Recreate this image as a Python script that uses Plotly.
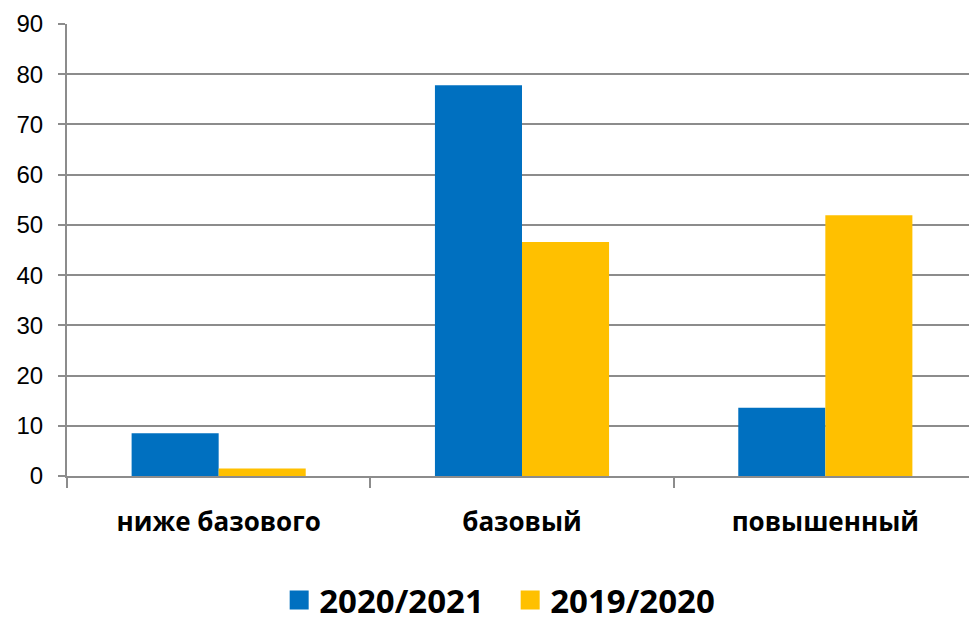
import plotly.graph_objects as go

categories = ["ниже базового", "базовый", "повышенный"]
series_2020_2021 = [8.5, 77.8, 13.6]
series_2019_2020 = [1.5, 46.6, 51.9]
y_ticks = [0, 10, 20, 30, 40, 50, 60, 70, 80, 90]
names = ["2020/2021", "2019/2020"]
colors = ["#0070C0", "#FFC000"]

fig = go.Figure()
for name, vals, col in zip(names, [series_2020_2021, series_2019_2020], colors):
    fig.add_trace(go.Bar(name=name, x=categories, y=vals, showlegend=False,
                         marker=dict(color=col, line=dict(width=0))))
# legend-only entries with larger square swatches
for name, col in zip(names, colors):
    fig.add_trace(go.Scatter(name=name, x=[categories[0]], y=[None], mode="markers",
                             marker=dict(symbol="square", size=16, color=col,
                                         line=dict(color=col, width=3)),
                             showlegend=True))

fig.update_layout(
    width=969, height=632,
    margin=dict(l=59, r=0, t=16, b=164),
    paper_bgcolor="white", plot_bgcolor="white",
    barmode="group", bargap=0.426, bargroupgap=0,
    font=dict(family="Liberation Sans, Arial", color="black"),
    legend=dict(orientation="h", x=0.487, xanchor="center", y=-0.2745, yanchor="middle",
                font=dict(family="Open Sans", size=33, color="black", weight="bold"),
                itemwidth=30, traceorder="normal", entrywidth=186, entrywidthmode="pixels"),
    showlegend=True,
)
fig.update_yaxes(range=[0, 90], tickvals=y_ticks, showgrid=True, gridcolor="#8C8C8C", gridwidth=2,
                 showline=True, linecolor="#8C8C8C", linewidth=2,
                 ticks="outside", ticklen=7, tickcolor="#8C8C8C", tickwidth=2,
                 tickfont=dict(size=24, family="Liberation Sans, Arial"),
                 ticklabelstandoff=10, zeroline=False)
fig.update_xaxes(showline=True, linecolor="#8C8C8C", linewidth=2,
                 ticks="outside", ticklen=10, tickcolor="#8C8C8C", tickwidth=2,
                 tickson="boundaries",
                 tickfont=dict(size=26, family="Open Sans", weight="bold"),
                 ticklabelstandoff=22)

fig.write_html("out.html")
